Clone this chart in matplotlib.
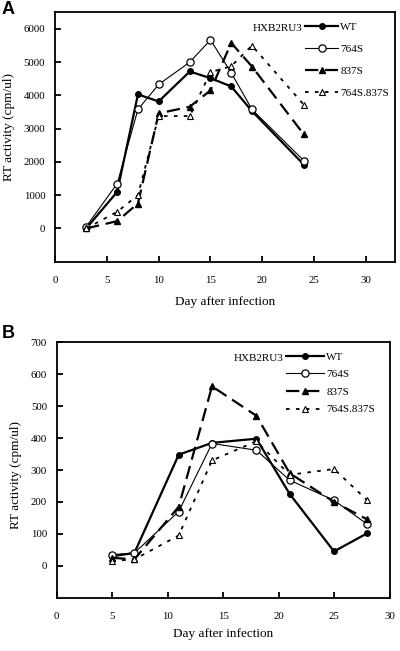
import matplotlib
matplotlib.use("Agg")
import matplotlib.pyplot as plt

# Panel A data
days_a = [3, 6, 8, 10, 13, 15, 17, 19, 24]
wt_a = [0, 1100, 4030, 3820, 4720, 4520, 4270, 3530, 1920]
s764_a = [50, 1350, 3580, 4330, 5000, 5670, 4680, 3580, 2040]
s837_a = [0, 220, 750, 3460, 3660, 4150, 5580, 4870, 2830]
dbl_a = [0, 500, 1000, 3380, 3380, 4700, 4880, 5500, 3720]

# Panel B data
days_b = [5, 7, 11, 14, 18, 21, 25, 28]
wt_b = [30, 40, 348, 385, 398, 225, 45, 102]
s764_b = [35, 40, 170, 383, 362, 268, 205, 130]
s837_b = [25, 20, 185, 562, 470, 290, 200, 145]
dbl_b = [15, 20, 95, 330, 390, 285, 303, 205]

labels = ["WT", "764S", "837S", "764S.837S"]
xticks = [0, 5, 10, 15, 20, 25, 30]
yticks_a = [0, 1000, 2000, 3000, 4000, 5000, 6000]
yticks_b = [0, 100, 200, 300, 400, 500, 600, 700]

plt.rcParams['font.family'] = ['Liberation Serif', 'DejaVu Serif']

W, H = 400, 651
fig = plt.figure(figsize=(W / 100, H / 100), dpi=100)

def px_axes(l, t, r, b):
    return fig.add_axes([l / W, 1 - b / H, (r - l) / W, (b - t) / H])

styles = [
    dict(color='black', lw=1.6, ls='-', marker='o', ms=4.0, mfc='black', mec='black'),
    dict(color='black', lw=0.8, ls='-', marker='o', ms=5.2, mfc='white', mec='black', mew=0.9),
    dict(color='black', lw=1.6, ls=(0, (6, 3)), marker='^', ms=5.0, mfc='black', mec='black'),
    dict(color='black', lw=1.3, ls=(0, (2, 3.5)), marker='^', ms=5.0, mfc='white', mec='black', mew=0.8),
]

def panel(ax, days, series, xlim, ylim, yticks, leg_x, leg_y, hx_x, hx_y, handlelen, lspace, xlpad):
    lines = []
    for s, st, lab in zip(series, styles, labels):
        ln, = ax.plot(days, s, label=lab, clip_on=False, **st)
        lines.append(ln)
    ax.set_xlim(*xlim)
    ax.set_ylim(*ylim)
    ax.set_xticks(xticks)
    ax.set_yticks(yticks)
    ax.tick_params(direction='in', length=4, width=1.3, labelsize=7.8)
    ax.tick_params(axis='x', pad=10)
    ax.tick_params(axis='y', pad=7)
    for sp in ax.spines.values():
        sp.set_linewidth(1.3)
    ax.set_xlabel("Day after infection", fontsize=9.5, labelpad=xlpad)
    ax.set_ylabel("RT activity (cpm/ul)", fontsize=9.5, labelpad=6)
    leg = ax.legend(handles=lines, loc='upper left', bbox_to_anchor=(leg_x, leg_y),
                    frameon=False, fontsize=8, handlelength=handlelen, handletextpad=0.2,
                    labelspacing=lspace, borderpad=0, borderaxespad=0)
    ax.text(hx_x, hx_y, "HXB2RU3", transform=ax.transAxes, ha='right', va='center', fontsize=8)
    return leg

axA = px_axes(55, 12.3, 395, 261.7)
panel(axA, days_a, [wt_a, s764_a, s837_a, dbl_a], (0, 32.8), (-1000, 6500), yticks_a,
      0.735, 0.962, 0.729, 0.935, 3.0, 1.12, 8)
axA.yaxis.label.set_position((0, 0.54))

axB = px_axes(56.7, 342.3, 389.5, 597.7)
panel(axB, days_b, [wt_b, s764_b, s837_b, dbl_b], (0, 30), (-100, 700), yticks_b,
      0.690, 0.962, 0.681, 0.9375, 3.4, 0.7, 5)
axB.yaxis.label.set_position((0, 0.48))

fig.text(2 / W, 1 - 1 / H, "A", fontsize=13, fontweight='bold', family='Liberation Sans', va='top', ha='left')
fig.text(2 / W, 1 - 325 / H, "B", fontsize=13, fontweight='bold', family='Liberation Sans', va='top', ha='left')

fig.savefig("out.png", dpi=100)
